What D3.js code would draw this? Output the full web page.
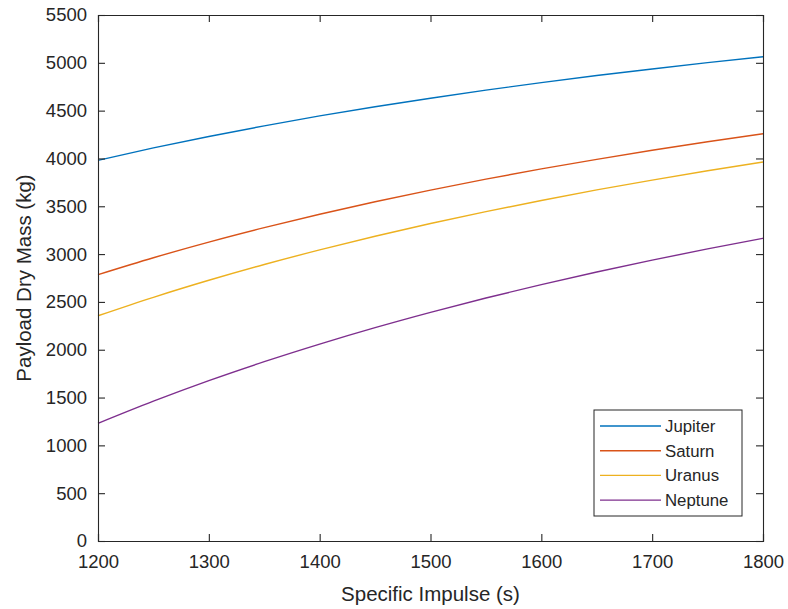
<!DOCTYPE html>
<html>
<head>
<meta charset="utf-8">
<script src="https://cdn.jsdelivr.net/npm/d3@7"></script>
<style>
  body { margin: 0; background: #fff; }
  text { font-family: "Liberation Sans", Arial, Helvetica, sans-serif; fill: #262626; }
</style>
</head>
<body>
<div id="chart"></div>
<script>
// specific impulse samples (s)
const isp = [1200, 1250, 1300, 1350, 1400, 1450, 1500, 1550, 1600, 1650, 1700, 1750, 1800];

// payload dry mass (kg)
const jupiter = [3980, 4110, 4230, 4341, 4445, 4541, 4630, 4714, 4793, 4867, 4936, 5002, 5064];
const saturn  = [2785, 2962, 3125, 3276, 3417, 3547, 3669, 3784, 3891, 3991, 4086, 4175, 4259];
const uranus  = [2355, 2548, 2726, 2891, 3044, 3187, 3320, 3444, 3561, 3671, 3774, 3871, 3963];
const neptune = [1230, 1462, 1677, 1875, 2059, 2231, 2391, 2541, 2681, 2813, 2937, 3054, 3165];

const names = ['Jupiter', 'Saturn', 'Uranus', 'Neptune'];
const colors = ['#0072BD', '#D95319', '#EDB120', '#7E2F8E'];
const xTicks = [1200, 1300, 1400, 1500, 1600, 1700, 1800];
const yTicks = [0, 500, 1000, 1500, 2000, 2500, 3000, 3500, 4000, 4500, 5000, 5500];

const width = 788;
const height = 609;
const margin = {top: 15, right: 25, bottom: 68, left: 98};

const svg = d3.select('#chart')
  .append('svg')
  .attr('width', width)
  .attr('height', height);

const x = d3.scaleLinear()
  .domain([1200, 1800])
  .range([margin.left, width - margin.right]);

const y = d3.scaleLinear()
  .domain([0, 5500])
  .range([height - margin.bottom, margin.top]);

const series = [jupiter, saturn, uranus, neptune];

const line = d3.line()
  .x((d, i) => x(isp[i]))
  .y(d => y(d))
  .curve(d3.curveMonotoneX);

svg.append('g')
  .selectAll('path')
  .data(series)
  .join('path')
  .attr('fill', 'none')
  .attr('stroke', (d, i) => colors[i])
  .attr('stroke-width', 1.4)
  .attr('d', line);

const tickLen = 7;

// axes with inward ticks, box on all four sides
function xAxis(g) {
  g.attr('transform', `translate(0,${height - margin.bottom})`)
    .call(d3.axisBottom(x).tickValues(xTicks).tickSize(-tickLen).tickPadding(14).tickFormat(d3.format('d')))
    .attr('font-size', '18.5px');
}
function xAxisTop(g) {
  g.attr('transform', `translate(0,${margin.top})`)
    .call(d3.axisTop(x).tickValues(xTicks).tickSize(-tickLen).tickFormat(''));
}
function yAxis(g) {
  g.attr('transform', `translate(${margin.left},0)`)
    .call(d3.axisLeft(y).tickValues(yTicks).tickSize(-tickLen).tickPadding(11).tickFormat(d3.format('d')))
    .attr('font-size', '18.5px');
}
function yAxisRight(g) {
  g.attr('transform', `translate(${width - margin.right},0)`)
    .call(d3.axisRight(y).tickValues(yTicks).tickSize(-tickLen).tickFormat(''));
}

[xAxis, xAxisTop, yAxis, yAxisRight].forEach(fn => {
  const g = svg.append('g').call(fn);
  g.attr('font-family', null);
  g.selectAll('.domain, line').attr('stroke', '#262626').attr('stroke-width', 1.1);
  g.selectAll('text').attr('fill', '#262626');
});

svg.append('text')
  .attr('x', (margin.left + width - margin.right) / 2)
  .attr('y', 601)
  .attr('text-anchor', 'middle')
  .attr('font-size', '20.5px')
  .text('Specific Impulse (s)');

svg.append('text')
  .attr('transform', `translate(31,${(margin.top + height - margin.bottom) / 2}) rotate(-90)`)
  .attr('text-anchor', 'middle')
  .attr('font-size', '20.5px')
  .text('Payload Dry Mass (kg)');

// legend
const legend = svg.append('g').attr('transform', 'translate(594,410)');
legend.append('rect')
  .attr('width', 148)
  .attr('height', 106)
  .attr('fill', '#fff')
  .attr('stroke', '#262626')
  .attr('stroke-width', 1);

const item = legend.selectAll('g.item')
  .data(names)
  .join('g')
  .attr('class', 'item')
  .attr('transform', (d, i) => `translate(0,${16 + i * 24.7})`);

item.append('line')
  .attr('x1', 6).attr('x2', 67)
  .attr('stroke', (d, i) => colors[i])
  .attr('stroke-width', 1.4);

item.append('text')
  .attr('x', 71)
  .attr('dy', '0.35em')
  .attr('font-size', '16.8px')
  .text(d => d);
</script>
</body>
</html>
